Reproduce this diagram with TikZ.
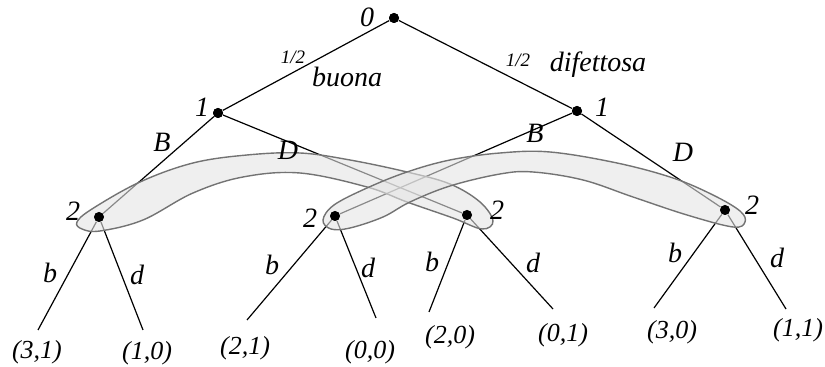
\documentclass[tikz,border=0pt]{standalone}
\usepackage{fontspec}
\setmainfont{Liberation Serif}

\begin{document}
\begin{tikzpicture}[x=0.5pt, y=-0.5pt,
    dec/.style={circle, fill=black, inner sep=0pt, minimum size=5pt},
    lab/.style={font=\fontsize{14}{16}\selectfont\itshape, inner sep=0pt},
    prob/.style={font=\fontsize{9.5}{11}\selectfont\itshape, inner sep=0pt},
    pay/.style={font=\fontsize{13}{15}\selectfont\itshape, inner sep=0pt},
    branch/.style={line width=0.6pt},
    infoset/.style={draw=black!55, line width=0.7pt, fill=black!10, fill opacity=0.6}
]
    \useasboundingbox (0,0) rectangle (825,367);

    % decision nodes
    \node[dec] (n0) at (394,18) {};
    \node[dec] (n1l) at (218,113) {};
    \node[dec] (n1r) at (577,111) {};
    \node[dec] (n2a) at (99,217) {};
    \node[dec] (n2b) at (335,216) {};
    \node[dec] (n2c) at (467,215) {};
    \node[dec] (n2d) at (725,210) {};

    % leaves
    \coordinate (ab) at (38,330);
    \coordinate (ad) at (143,330);
    \coordinate (bb) at (247,320);
    \coordinate (bd) at (376,318);
    \coordinate (cb) at (429,312);
    \coordinate (cd) at (553,309);
    \coordinate (db) at (654,308);
    \coordinate (dd) at (786,309);

    \draw[branch] (n0) -- (n1l);
    \draw[branch] (n0) -- (n1r);
    \draw[branch] (n1l) -- (n2a);
    \draw[branch] (n1l) -- (n2c);
    \draw[branch] (n1r) -- (n2b);
    \draw[branch] (n1r) -- (n2d);
    \draw[branch] (n2a) -- (ab);
    \draw[branch] (n2a) -- (ad);
    \draw[branch] (n2b) -- (bb);
    \draw[branch] (n2b) -- (bd);
    \draw[branch] (n2c) -- (cb);
    \draw[branch] (n2c) -- (cd);
    \draw[branch] (n2d) -- (db);
    \draw[branch] (n2d) -- (dd);

    % information sets
    \draw[infoset] plot[smooth cycle, tension=0.6] coordinates {
        (77,222) (92,209) (140,182) (193,163) (247,155) (300,153) (350,160)
        (407,172) (450,184) (480,202) (493,221) (482,229) (453,218) (407,202)
        (367,187) (300,173) (243,177) (193,193) (143,220) (100,231) (82,229)};
    \draw[infoset] plot[smooth cycle, tension=0.6] coordinates {
        (323,220) (334,205) (367,188) (407,172) (450,160) (500,153) (550,152)
        (617,163) (673,178) (713,195) (740,211) (745,222) (733,227) (687,215)
        (633,197) (583,180) (533,172) (500,174) (450,186) (410,202) (383,217)
        (350,228) (331,229)};

    % redraw the nodes on top
    \foreach \n in {n0,n1l,n1r,n2a,n2b,n2c,n2d}
        \fill (\n) circle (2.5pt);

    % players
    \node[lab] (p0) at (367,17) {0};
    \node[lab] (p1l) at (202,107) {1};
    \node[lab] (p1r) at (602,107) {1};
    \node[lab] (p2a) at (73,211) {2};
    \node[lab] (p2b) at (310,218) {2};
    \node[lab] (p2c) at (497,210) {2};
    \node[lab] (p2d) at (752,205) {2};

    % chance moves
    \node[prob] (ql) at (293,57) {1/2};
    \node[lab] (good) at (347,77) {buona};
    \node[prob] (qr) at (518,60) {1/2};
    \node[lab] (bad) at (598,65) {difettosa};

    % actions
    \node[lab] (Bl) at (162,142) {B};
    \node[lab] (Dl) at (288,150) {D};
    \node[lab] (Br) at (535,133) {B};
    \node[lab] (Dr) at (683,152) {D};
    \node[lab] (ba) at (50,273) {b};
    \node[lab] (da) at (137,275) {d};
    \node[lab] (bbl) at (272,265) {b};
    \node[lab] (dbl) at (368,268) {d};
    \node[lab] (bcl) at (432,262) {b};
    \node[lab] (dcl) at (533,263) {d};
    \node[lab] (bdl) at (675,253) {b};
    \node[lab] (ddl) at (777,258) {d};

    % payoffs
    \node[pay] (u1) at (37,352) {(3,1)};
    \node[pay] (u2) at (147,353) {(1,0)};
    \node[pay] (u3) at (245,348) {(2,1)};
    \node[pay] (u4) at (370,352) {(0,0)};
    \node[pay] (u5) at (450,337) {(2,0)};
    \node[pay] (u6) at (563,335) {(0,1)};
    \node[pay] (u7) at (672,332) {(3,0)};
    \node[pay] (u8) at (798,330) {(1,1)};
\end{tikzpicture}
\end{document}
